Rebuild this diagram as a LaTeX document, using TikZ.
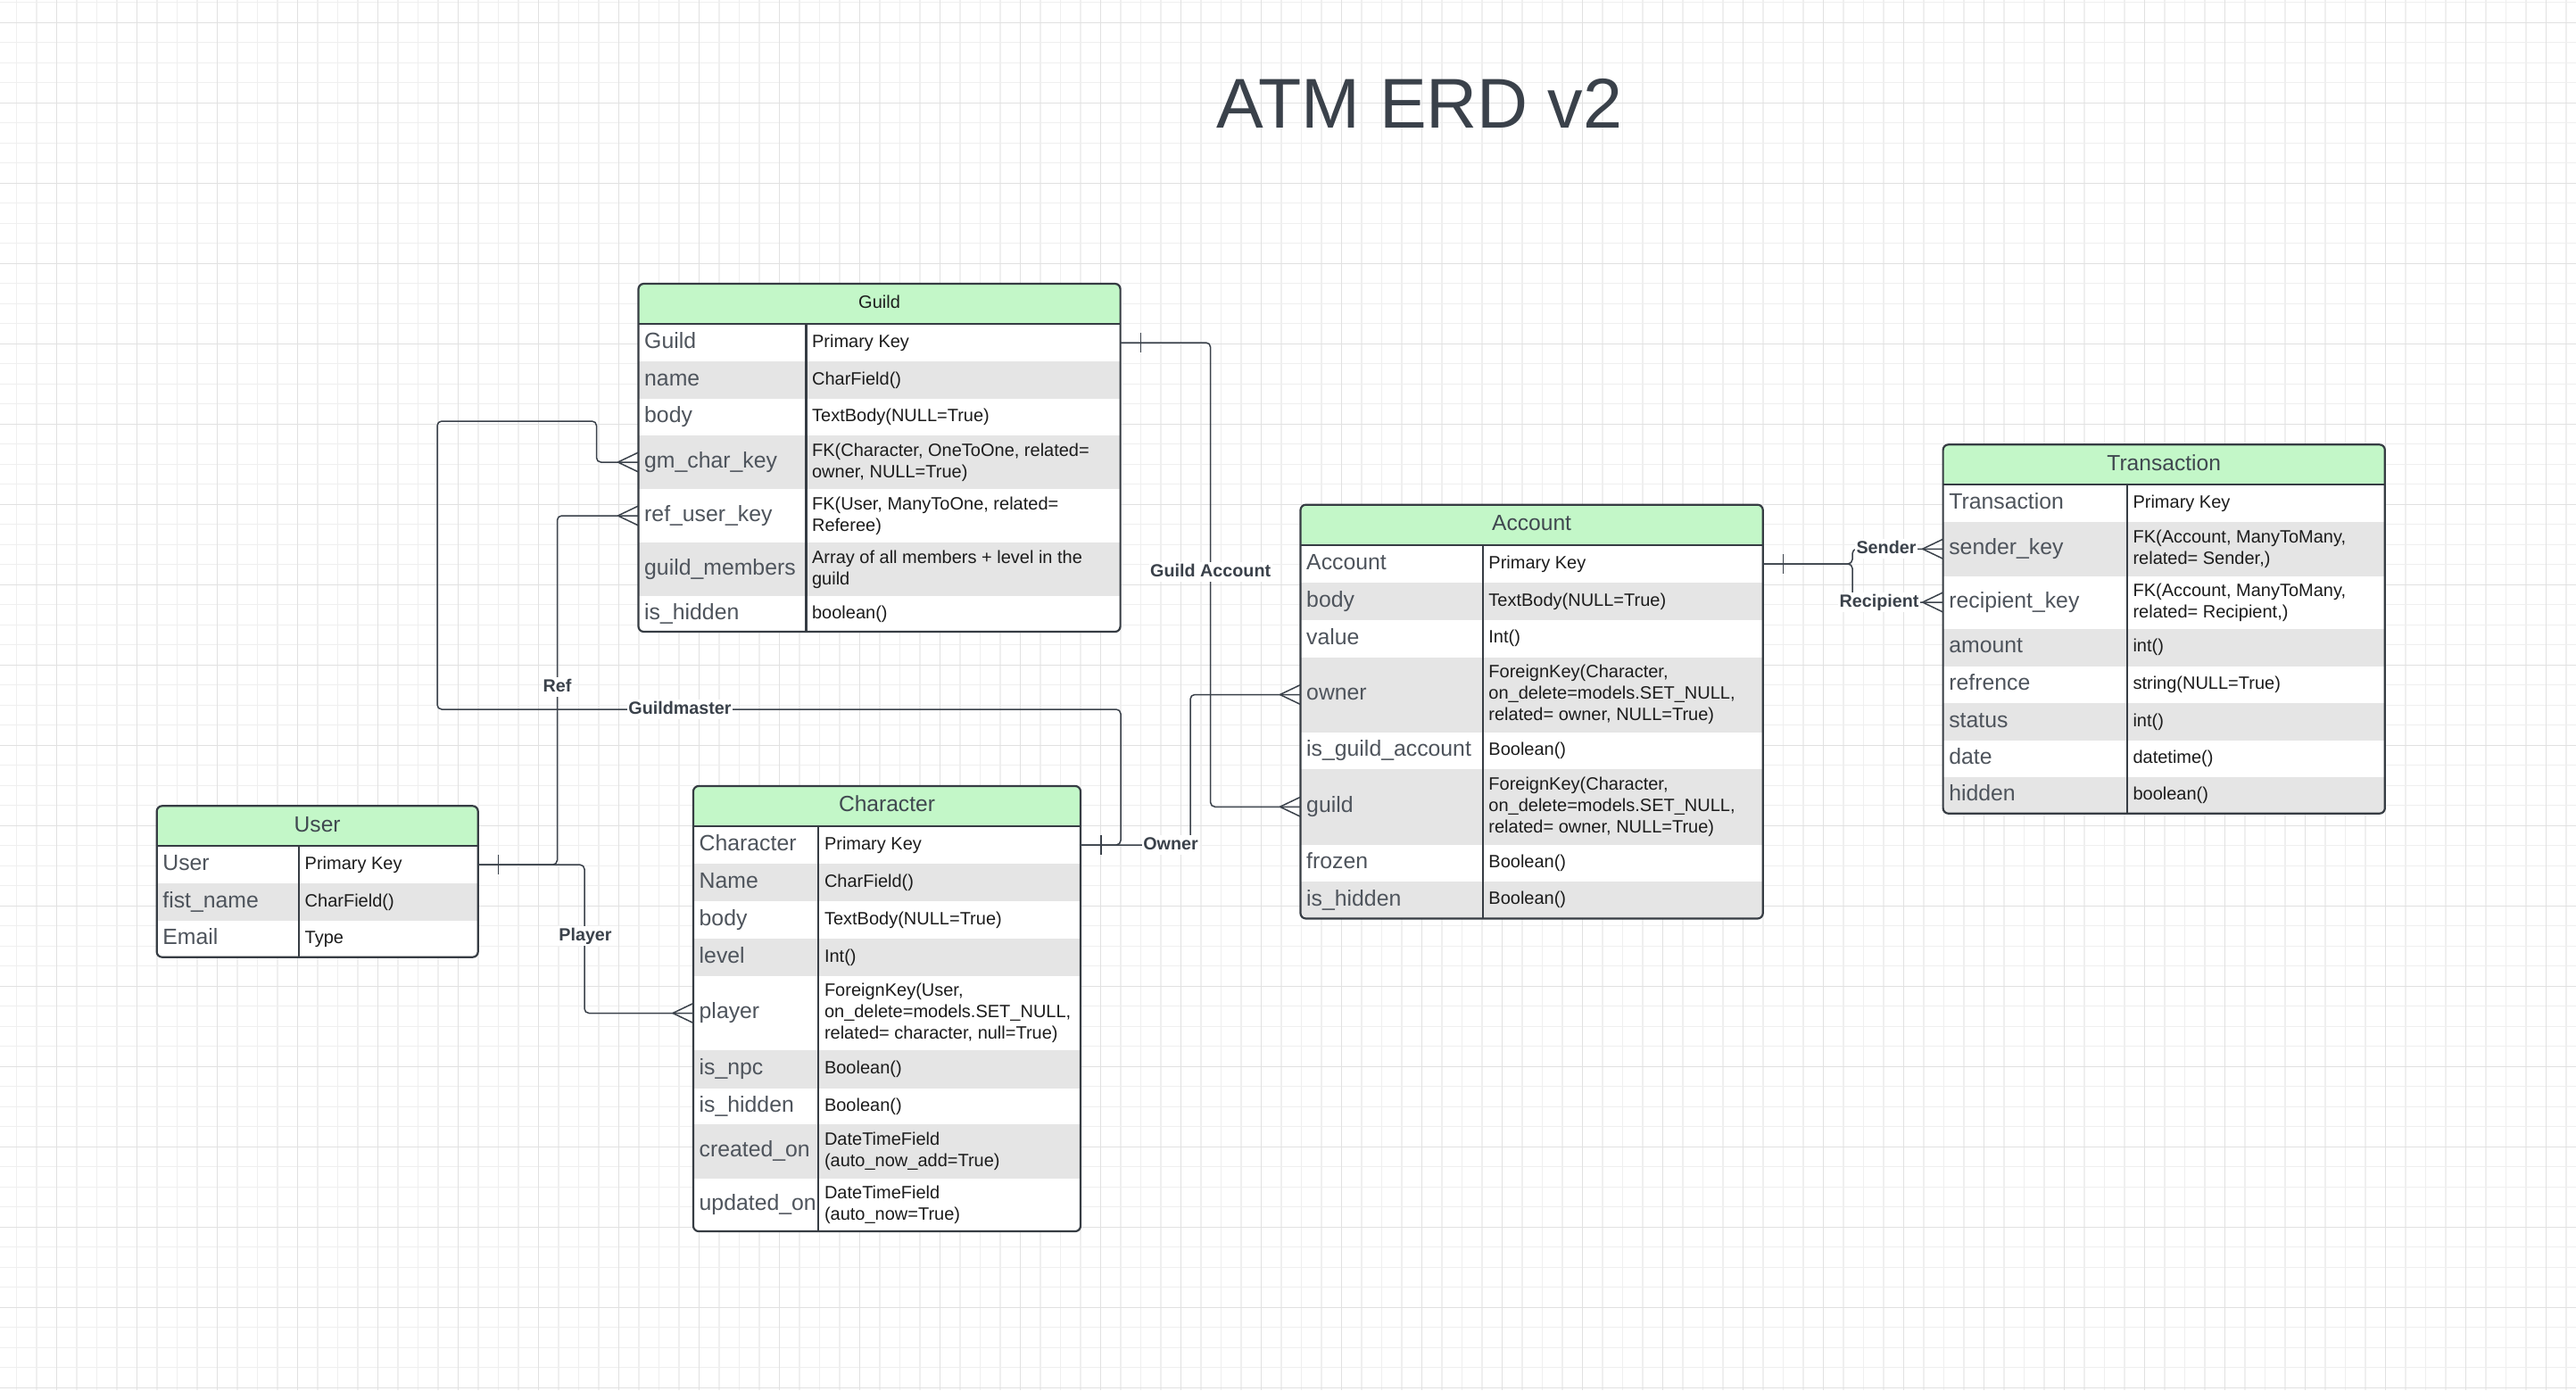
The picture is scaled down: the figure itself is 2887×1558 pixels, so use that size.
\documentclass[tikz,border=0pt]{standalone}
\usepackage{fontspec}
\setmainfont{Liberation Sans}
\usetikzlibrary{calc}
\definecolor{hdrgreen}{HTML}{C3F7C8}
\definecolor{rowgray}{HTML}{E5E5E5}
\definecolor{edgecol}{HTML}{363C43}
\definecolor{fieldcol}{HTML}{4E545C}
\definecolor{typecol}{HTML}{1C1C1C}
\definecolor{hdrcol}{HTML}{404850}
\definecolor{linecol}{HTML}{3A414A}
\definecolor{gridminorcol}{HTML}{EFEFEF}
\definecolor{gridmajorcol}{HTML}{E1E1E1}
\tikzset{
  rowbox/.style={draw=none, inner sep=0pt, outer sep=0pt, anchor=north west},
  fieldtxt/.style={font=\fontsize{24.8}{28}\selectfont, text=fieldcol, inner sep=0pt, anchor=west, text height=17.9pt, text depth=5.2pt},
  typetxt/.style={font=\fontsize{20}{24.2}\selectfont, text=typecol, inner sep=0pt, anchor=west, align=left},
  hdrtxt/.style={font=\fontsize{24.6}{28}\selectfont, text=hdrcol, inner sep=0pt, text height=17.7pt, text depth=5.2pt},
  hdrtxtsmall/.style={font=\fontsize{20}{24}\selectfont, text=typecol, inner sep=0pt, text height=14.4pt, text depth=4.2pt},
  tframe/.style={draw=edgecol, line width=2.2pt, rounded corners=6pt},
  tsep/.style={draw=edgecol, line width=2.2pt},
  conn/.style={draw=linecol, line width=1.5pt, rounded corners=5pt},
  crowline/.style={draw=linecol, line width=1.5pt},
  lbl/.style={font=\bfseries\fontsize{19.75}{22}\selectfont, text=linecol, fill=white, inner sep=1.5pt, text height=14.2pt, text depth=4.1pt},
  ttl/.style={font=\fontsize{79}{82}\selectfont, text=linecol, inner sep=0pt, anchor=base},
  gminor/.style={draw=gridminorcol, line width=1.4pt},
  gmajor/.style={draw=gridmajorcol, line width=1pt},
}
% name, left, right, divider, top, bottom, fill, field, type
\newcommand{\erdrow}[9]{%
  \node[rowbox, fill=#7, minimum width={#3-#2}, minimum height={#6-#5}] (#1) at (#2,#5) {};
  \node[fieldtxt] (#1f) at ({#2+6.5},{(#5+#6)/2}) {#8};
  \node[typetxt] (#1t) at ({#4+6.5},{(#5+#6)/2}) {#9};
}
% name, left, top, right, header bottom, style, text
\newcommand{\erdhead}[7]{%
  \node[rowbox, fill=hdrgreen, minimum width={#4-#2}, minimum height={#5-#3}] (#1) at (#2,#3) {};
  \node[#6] (#1txt) at (#1.center) {#7};
}
% left, top, right, bottom, header bottom, divider
\newcommand{\erdframe}[6]{%
  \draw[tsep] (#1,#5) -- (#3,#5);
  \draw[tsep] (#6,#5) -- (#6,#4);
  \draw[tframe] (#1,#2) rectangle (#3,#4);
}
\newcommand{\crowat}[1]{\draw[crowline] ($(#1)+(-23,0)$) -- ($(#1)+(0,-11)$) ($(#1)+(-23,0)$) -- ($(#1)+(0,11)$);}
\newcommand{\tickat}[1]{\draw[crowline] ($(#1)+(23,-11)$) -- ($(#1)+(23,11)$);}
\begin{document}
\begin{tikzpicture}[x=1pt,y=-1pt]
\useasboundingbox (0,0) rectangle (2887,1558);
\fill[white] (0,0) rectangle (2887,1558);
% grid
\foreach \i in {0,...,128} { \draw[gminor] ({18.3+22.5*\i},0) -- ({18.3+22.5*\i},1558); }
\foreach \i in {0,...,69} { \draw[gminor] (0,{2.7+22.5*\i}) -- (2887,{2.7+22.5*\i}); }
\foreach \i in {0,...,31} { \draw[gmajor] ({63.3+90*\i},0) -- ({63.3+90*\i},1558); }
\foreach \i in {0,...,17} { \draw[gmajor] (0,{25+90*\i}) -- (2887,{25+90*\i}); }

% title
\node[ttl] (title) at (1590.8,143.3) {ATM ERD v2};

% ---------- Guild ----------
\begin{scope}
\clip[rounded corners=6pt] (715.5,318) rectangle (1255.6,708);
\erdhead{gh}{715.5}{318}{1255.6}{363}{hdrtxtsmall}{Guild}
\erdrow{gpk}{715.5}{1255.6}{903.4}{363}{405}{white}{Guild}{Primary Key}
\erdrow{gnm}{715.5}{1255.6}{903.4}{405}{447}{rowgray}{name}{CharField()}
\erdrow{gbd}{715.5}{1255.6}{903.4}{447}{488}{white}{body}{TextBody(NULL=True)}
\erdrow{ggm}{715.5}{1255.6}{903.4}{488}{548}{rowgray}{gm\_char\_key}{FK(Character, OneToOne, related=\\owner, NULL=True)}
\erdrow{grf}{715.5}{1255.6}{903.4}{548}{608}{white}{ref\_user\_key}{FK(User, ManyToOne, related=\\Referee)}
\erdrow{gmb}{715.5}{1255.6}{903.4}{608}{668}{rowgray}{guild\_members}{Array of all members + level in the\\guild}
\erdrow{ghd}{715.5}{1255.6}{903.4}{668}{708}{white}{is\_hidden}{boolean()}
\end{scope}
\erdframe{715.5}{318}{1255.6}{708}{363}{903.4}

% ---------- Character ----------
\begin{scope}
\clip[rounded corners=6pt] (777,881) rectangle (1211,1380);
\erdhead{ch}{777}{881}{1211}{926}{hdrtxt}{Character}
\erdrow{cpk}{777}{1211}{917.3}{926}{968}{white}{Character}{Primary Key}
\erdrow{cnm}{777}{1211}{917.3}{968}{1010}{rowgray}{Name}{CharField()}
\erdrow{cbd}{777}{1211}{917.3}{1010}{1052}{white}{body}{TextBody(NULL=True)}
\erdrow{clv}{777}{1211}{917.3}{1052}{1094}{rowgray}{level}{Int()}
\erdrow{cpl}{777}{1211}{917.3}{1094}{1177}{white}{player}{ForeignKey(User,\\on\_delete=models.SET\_NULL,\\related= character, null=True)}
\erdrow{cnp}{777}{1211}{917.3}{1177}{1220}{rowgray}{is\_npc}{Boolean()}
\erdrow{chd}{777}{1211}{917.3}{1220}{1260}{white}{is\_hidden}{Boolean()}
\erdrow{ccr}{777}{1211}{917.3}{1260}{1320.5}{rowgray}{created\_on}{DateTimeField\\(auto\_now\_add=True)}
\erdrow{cup}{777}{1211}{917.3}{1320.5}{1380}{white}{updated\_on}{DateTimeField\\(auto\_now=True)}
\end{scope}
\erdframe{777}{881}{1211}{1380}{926}{917.3}

% ---------- User ----------
\begin{scope}
\clip[rounded corners=6pt] (175.7,903.3) rectangle (535.7,1072.7);
\erdhead{uh}{175.7}{903.3}{535.7}{948.3}{hdrtxt}{User}
\erdrow{upk}{175.7}{535.7}{335}{948.3}{990}{white}{User}{Primary Key}
\erdrow{ufn}{175.7}{535.7}{335}{990}{1032}{rowgray}{fist\_name}{CharField()}
\erdrow{uem}{175.7}{535.7}{335}{1032}{1072.7}{white}{Email}{Type}
\end{scope}
\erdframe{175.7}{903.3}{535.7}{1072.7}{948.3}{335}

% ---------- Account ----------
\begin{scope}
\clip[rounded corners=6pt] (1457.5,565.7) rectangle (1975.7,1029.5);
\erdhead{ah}{1457.5}{565.7}{1975.7}{611}{hdrtxt}{Account}
\erdrow{apk}{1457.5}{1975.7}{1661.7}{611}{653}{white}{Account}{Primary Key}
\erdrow{abd}{1457.5}{1975.7}{1661.7}{653}{695}{rowgray}{body}{TextBody(NULL=True)}
\erdrow{avl}{1457.5}{1975.7}{1661.7}{695}{736.5}{white}{value}{Int()}
\erdrow{aow}{1457.5}{1975.7}{1661.7}{736.5}{820.5}{rowgray}{owner}{ForeignKey(Character,\\on\_delete=models.SET\_NULL,\\related= owner, NULL=True)}
\erdrow{aga}{1457.5}{1975.7}{1661.7}{820.5}{862}{white}{is\_guild\_account}{Boolean()}
\erdrow{agd}{1457.5}{1975.7}{1661.7}{862}{946.5}{rowgray}{guild}{ForeignKey(Character,\\on\_delete=models.SET\_NULL,\\related= owner, NULL=True)}
\erdrow{afz}{1457.5}{1975.7}{1661.7}{946.5}{988}{white}{frozen}{Boolean()}
\erdrow{ahd}{1457.5}{1975.7}{1661.7}{988}{1029.5}{rowgray}{is\_hidden}{Boolean()}
\end{scope}
\erdframe{1457.5}{565.7}{1975.7}{1029.5}{611}{1661.7}

% ---------- Transaction ----------
\begin{scope}
\clip[rounded corners=6pt] (2177.6,498.3) rectangle (2672.8,911.7);
\erdhead{th}{2177.6}{498.3}{2672.8}{543.3}{hdrtxt}{Transaction}
\erdrow{tpk}{2177.6}{2672.8}{2383.8}{543.3}{585}{white}{Transaction}{Primary Key}
\erdrow{tsk}{2177.6}{2672.8}{2383.8}{585}{645.5}{rowgray}{sender\_key}{FK(Account, ManyToMany,\\related= Sender,)}
\erdrow{trk}{2177.6}{2672.8}{2383.8}{645.5}{704.5}{white}{recipient\_key}{FK(Account, ManyToMany,\\related= Recipient,)}
\erdrow{tam}{2177.6}{2672.8}{2383.8}{704.5}{746.5}{rowgray}{amount}{int()}
\erdrow{trf}{2177.6}{2672.8}{2383.8}{746.5}{788.3}{white}{refrence}{string(NULL=True)}
\erdrow{tst}{2177.6}{2672.8}{2383.8}{788.3}{830}{rowgray}{status}{int()}
\erdrow{tdt}{2177.6}{2672.8}{2383.8}{830}{871}{white}{date}{datetime()}
\erdrow{thd}{2177.6}{2672.8}{2383.8}{871}{911.7}{rowgray}{hidden}{boolean()}
\end{scope}
\erdframe{2177.6}{498.3}{2672.8}{911.7}{543.3}{2383.8}

% ---------- connectors ----------
\draw[conn] (gpk.east) -- ++(101,0) |- (agd.west);
\draw[conn] (cpk.east) -- ++(123,0) |- (aow.west);
\draw[conn] (cpk.east) -| (1256,795) -| (490,472) -| ([xshift=-47pt]ggm.west) -- (ggm.west);
\draw[conn] (upk.east) -| ([xshift=-91pt]grf.west) -- (grf.west);
\draw[conn] (upk.east) -| ([xshift=-122pt]cpl.west) -- (cpl.west);
\draw[conn] (apk.east) -| ([xshift=-101.6pt]tsk.west) -- (tsk.west);
\draw[conn] (apk.east) -| ([xshift=-101.6pt]trk.west) -- (trk.west);

\tickat{gpk.east}
\tickat{cpk.east}
\tickat{upk.east}
\tickat{apk.east}
\crowat{ggm.west}
\crowat{grf.west}
\crowat{cpl.west}
\crowat{aow.west}
\crowat{agd.west}
\crowat{tsk.west}
\crowat{trk.west}

% ---------- labels ----------
\node[lbl] (lga) at (1356.7,641) {Guild Account};
\node[lbl] (low) at (1312,947) {Owner};
\node[lbl] (lgm) at (762,795) {Guildmaster};
\node[lbl] (lrf) at (624.5,770) {Ref};
\node[lbl] (lpl) at (656,1049) {Player};
\node[lbl] (lsd) at (2114,615) {Sender};
\node[lbl] (lrc) at (2106,675) {Recipient};
\end{tikzpicture}
\end{document}
